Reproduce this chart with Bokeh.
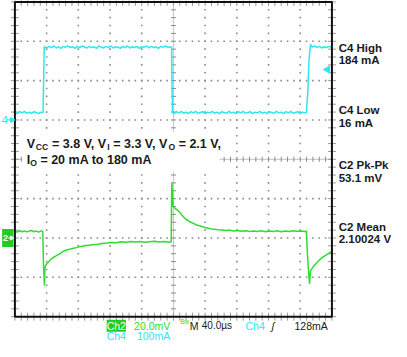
import numpy as np
from bokeh.plotting import figure
from bokeh.models import Range1d, Label
from bokeh.embed import file_html
from bokeh.resources import INLINE

# ---------------- data (time in µs, 40 µs/div) ----------------
# Channel 4: load current in mA (100 mA/div)
ch4_low_a = [(0, 19), (3, 16), (6, 21), (9, 18), (12, 22), (15, 17), (18, 20), (21, 17), (24, 21),
             (27, 19), (30, 16), (33, 20), (35.5, 18)]
ch4_high_a = [(37, 186), (40, 183), (43, 187), (46, 184), (49, 188), (52, 183), (55, 186), (58, 182),
              (61, 187), (64, 185), (67, 188), (70, 184), (73, 186), (76, 182), (79, 187), (82, 184),
              (85, 188), (88, 185), (91, 183), (94, 187), (97, 184), (100, 186), (103, 182), (106, 188),
              (109, 185), (112, 183), (115, 187), (118, 184), (121, 188), (124, 183), (127, 186),
              (130, 185), (133, 182), (136, 187), (139, 184), (142, 188), (145, 183), (148, 186),
              (151, 184), (154, 187), (157, 182), (160, 186), (163, 185), (166, 188), (169, 183),
              (172, 187), (175, 184), (178, 186), (181, 182), (184, 187), (187, 185), (190, 188),
              (193, 184), (196, 186), (197.6, 185)]
ch4_low_b = [(198.8, 19), (201, 16), (204, 21), (207, 18), (210, 22), (213, 17), (216, 20), (219, 16),
             (222, 21), (225, 18), (228, 22), (231, 17), (234, 19), (237, 21), (240, 16), (243, 20),
             (246, 18), (249, 22), (252, 17), (255, 20), (258, 16), (261, 21), (264, 19), (267, 17),
             (270, 22), (273, 18), (276, 20), (279, 16), (282, 21), (285, 18), (288, 22), (291, 17),
             (294, 19), (297, 21), (300, 16), (303, 20), (306, 18), (309, 22), (312, 17), (315, 20),
             (318, 16), (321, 21), (324, 19), (327, 17), (330, 22), (333, 18), (336, 20), (339, 16),
             (342, 21), (345, 18), (348, 22), (351, 17), (354, 19), (357, 21), (360, 16), (363, 20),
             (366, 18), (367.8, 19)]
ch4_high_b = [(369.5, 70), (371, 150), (373, 192), (375, 185), (378, 188), (381, 184), (384, 187),
              (387, 183), (390, 186), (393, 184), (396, 187), (399, 185), (400, 184)]

# Channel 2: output voltage deviation from 2.1 V, in mV (20 mV/div)
ch2_flat_a = [(0, 3.4), (3, 3.0), (6, 3.7), (9, 3.2), (12, 3.6), (15, 3.1), (18, 3.5), (21, 3.8),
              (24, 3.2), (27, 3.5), (30, 3.0), (33, 3.6), (35.2, 3.3)]
ch2_dip_a = [(36.0, -12.5), (36.6, -18), (37.2, -24.1), (37.8, -15.5), (39, -13.8), (41, -12.9),
             (43, -12.0), (45, -11.0), (47, -10.3), (49, -9.8), (51, -9.3), (53, -8.8), (56, -8.2),
             (59, -7.3), (62, -6.6), (65, -6.1), (68, -5.8), (71, -5.5), (74, -5.2), (78, -4.9),
             (82, -4.4), (86, -4.1), (90, -3.8), (95, -3.6), (100, -3.3), (105, -3.2), (110, -2.8),
             (116, -2.6), (122, -2.3), (128, -2.4), (134, -1.9), (140, -2.2), (146, -1.8),
             (152, -2.1), (158, -1.8), (164, -2.2), (170, -1.9), (176, -1.7), (182, -2.1),
             (188, -1.8), (194, -2.2), (197.2, -1.9)]
ch2_spike = [(197.9, 28.1), (198.8, 22), (199.6, 16.0), (201, 15.5), (202.5, 15.0), (204, 14.4),
             (206, 13.8), (208, 13.1), (210, 12.0), (212, 11.1), (214, 10.2), (216, 9.4), (218, 9.0),
             (220, 8.4), (222, 8.0), (224, 7.7), (227, 7.0), (230, 6.5), (233, 6.2), (236, 5.8),
             (240, 5.3), (244, 5.0), (248, 4.6), (252, 4.5), (256, 4.2), (261, 4.1), (266, 3.8),
             (271, 4.0), (276, 3.6), (281, 3.8), (286, 3.4), (291, 3.7), (296, 3.3), (301, 3.6),
             (306, 3.3), (311, 3.7), (316, 3.2), (321, 3.5), (326, 3.3), (331, 3.7), (336, 3.2),
             (341, 3.6), (346, 3.3), (351, 3.7), (356, 3.4), (361, 3.6), (366, 3.3), (367.8, 3.5)]
ch2_dip_b = [(368.8, -6), (369.8, -13), (371.0, -20), (371.8, -23.3), (372.8, -17), (374, -16),
             (376, -14.8), (378, -13.8), (380, -13.0), (382, -12.2), (384, -11.3), (386, -10.5),
             (388, -9.9), (390, -9.3), (392, -8.8), (394, -8.3), (396, -7.8), (398, -7.3), (400, -6.8)]

trigger_level_ma = 128

# measurement texts
meas_labels = ["C4 High", "184 mA", "C4 Low", "16 mA", "C2 Pk-Pk", "53.1 mV", "C2 Mean", "2.10024 V"]

CYAN = "#2ee6f2"
GREEN = "#2fdc2f"
TXT = "#1a1a1a"
FONT = "Liberation Sans"
NB = "\u00a0"

ch4 = ch4_low_a + ch4_high_a + ch4_low_b + ch4_high_b
ch2 = ch2_flat_a + ch2_dip_a + ch2_spike + ch2_dip_b
ch4_t = [a for a, b in ch4]
ch4_ma = [b for a, b in ch4]
ch2_t = [a for a, b in ch2]
ch2_mv = [b for a, b in ch2]

# ---------------- layout: graticule (10 x 8 div) inside the canvas ----------------
W, H = 391, 341
sx, sy = W / 407.0, H / 357.0
L, R, T, B = 15 * sx, 345 * sx, 1.5 * sy, 331 * sy
kx, ky = (R - L) / 10.0, (B - T) / 8.0
x0, x1 = -L / kx, 10 + (W - R) / kx
y1, y0 = 4 + T / ky, -4 - (H - B) / ky

p = figure(width=W, height=H, x_range=Range1d(x0, x1), y_range=Range1d(y0, y1),
           output_backend="svg", toolbar_location=None,
           x_axis_location=None, y_axis_location=None,
           min_border=0, min_border_left=0, min_border_right=0, min_border_top=0, min_border_bottom=0)
p.extra_x_ranges = {"us": Range1d(x0 * 40, x1 * 40)}
p.extra_y_ranges = {"ma": Range1d((y0 - 1) * 100, (y1 - 1) * 100),
                    "mv": Range1d((y0 + 2) * 20, (y1 + 2) * 20)}
for g in p.grid:
    g.visible = False
p.outline_line_color = None
p.background_fill_color = "white"
p.border_fill_color = "white"

# ---------------- graticule ----------------
fine_x = np.round(np.arange(0, 10.001, 0.2), 3)
fine_y = np.round(np.arange(-4, 4.001, 0.2), 3)
gx, gy = [], []
for xv in [1, 2, 3, 4, 6, 7, 8, 9]:
    gx += [xv] * len(fine_y)
    gy += list(fine_y)
for yv in [-3, -2, -1, 1, 2, 3]:
    gx += list(fine_x)
    gy += [yv] * len(fine_x)
p.scatter(gx, gy, marker="square", size=1.6, fill_color="#8a8a8a", line_color=None)

p.line([0, 10], [0, 0], line_color="#c4c4c4", line_width=1)
p.line([5, 5], [-4, 4], line_color="#c4c4c4", line_width=1)
p.scatter(list(fine_x), [0] * len(fine_x), marker="dash", angle=np.pi / 2, size=5,
          line_color="#8a8a8a", line_width=1)
p.scatter([5] * len(fine_y), list(fine_y), marker="dash", size=5, line_color="#8a8a8a", line_width=1)
p.scatter(list(fine_x) * 2, [4] * len(fine_x) + [-4] * len(fine_x), marker="dash", angle=np.pi / 2,
          size=8, line_color="#9a9a9a", line_width=1)
p.scatter([0] * len(fine_y) + [10] * len(fine_y), list(fine_y) * 2, marker="dash",
          size=8, line_color="#9a9a9a", line_width=1)


def X(px):  # reference pixel -> graticule division (layout helper)
    return (px - 15.0) / 33.0


def Y(py):
    return (166.25 - py) / 41.19


# white box behind the conditions text
p.quad(left=[X(23)], right=[X(228)], top=[Y(137.5)], bottom=[Y(179)],
       fill_color="white", line_color=None)

# ---------------- traces ----------------
p.line(ch4_t, ch4_ma, x_range_name="us", y_range_name="ma", line_color=CYAN, line_width=1.5)
p.line(ch2_t, ch2_mv, x_range_name="us", y_range_name="mv", line_color=GREEN, line_width=1.5)

# trigger level marker
p.scatter([9.86], [trigger_level_ma], y_range_name="ma", marker="triangle", angle=np.pi / 2,
          size=7, fill_color=CYAN, line_color=CYAN)

# graticule border
p.quad(left=[0], right=[10], bottom=[-4], top=[4], fill_color=None,
       line_color="#111111", line_width=2)

# channel ground markers (left of graticule)
p.segment(x0=[X(6.5)], y0=[0], x1=[X(12)], y1=[0], y_range_name="ma", line_color=CYAN, line_width=1.3)
p.scatter([X(12)], [0], y_range_name="ma", marker="triangle", angle=-np.pi / 2, size=5,
          fill_color=CYAN, line_color=CYAN)
p.quad(left=[X(1.7)], right=[X(13.5)], top=[4.6], bottom=[-4.6], y_range_name="mv",
       fill_color="#22cc22", line_color=None)
p.segment(x0=[X(8)], y0=[0], x1=[X(12)], y1=[0], y_range_name="mv", line_color="white", line_width=1.2)
p.scatter([X(11.5)], [0], y_range_name="mv", marker="triangle", angle=-np.pi / 2, size=4,
          fill_color="white", line_color="white")


# ---------------- texts ----------------
def lab(text, xpx, ypx, size, color=TXT, style="bold", **kw):
    p.add_layout(Label(x=X(xpx), y=Y(ypx), text=text, text_font=FONT,
                       text_font_size=f"{size}px", text_font_style=style, text_color=color,
                       text_baseline="alphabetic", text_align="left", **kw))


p.add_layout(Label(x=X(1.0), y=0, y_range_name="ma", text="4", text_font=FONT, text_font_size="11.5px",
                   text_color=CYAN, text_baseline="middle"))
p.add_layout(Label(x=X(2.6), y=0, y_range_name="mv", text="2", text_font=FONT, text_font_size="9px",
                   text_font_style="bold", text_color="white", text_baseline="middle"))

# conditions
lab("V", 27.3, 150.7, 12.5)
lab("CC", 36.8, 153.8, 8.6)
lab(NB + "=" + NB + "3.8" + NB + "V," + NB + "V", 50.0, 150.7, 12.5)
lab("I", 111.2, 153.8, 8.6)
lab(NB + "=" + NB + "3.3" + NB + "V," + NB + "V", 113.7, 150.7, 12.5)
lab("O", 174.8, 153.8, 8.6)
lab(NB + "=" + NB + "2.1" + NB + "V,", 181.8, 150.7, 12.5)
lab("I", 27.3, 166.7, 12.5)
lab("O", 30.9, 169.8, 8.6)
lab(NB + "= 20 mA to 180 mA", 37.9, 166.7, 12.5)

# measurements on the right
meas_base = [49.3, 62.7, 115.0, 128.3, 172.0, 186.0, 237.0, 249.5]
for t, b in zip(meas_labels, meas_base):
    lab(t, 352, b, 11.5)

# status bar
p.add_layout(Label(x=X(110.5), y=Y(340.5), text="Ch2", text_font=FONT, text_font_size="10.5px",
                   text_color="white", background_fill_color="#22cc22", text_baseline="alphabetic"))
lab("20.0mV", 139, 340.5, 10.5, GREEN, "normal")
lab("Bw", 187, 336.5, 6.5, GREEN, "normal")
lab("M", 197, 340.5, 10.5, TXT, "normal")
lab("40.0µs", 209.5, 340.5, 10, TXT, "normal")
lab("Ch4", 255, 340.5, 10.5, CYAN, "normal")
lab("ʃ", 282, 340.5, 10.5, TXT, "italic")
lab("128mA", 306, 340.5, 10.5, TXT, "normal")
lab("Ch4", 110.5, 351, 10.5, CYAN, "normal")
lab("100mA", 142, 351, 10.5, CYAN, "normal")

open("out.html", "w").write(file_html(p, INLINE))
